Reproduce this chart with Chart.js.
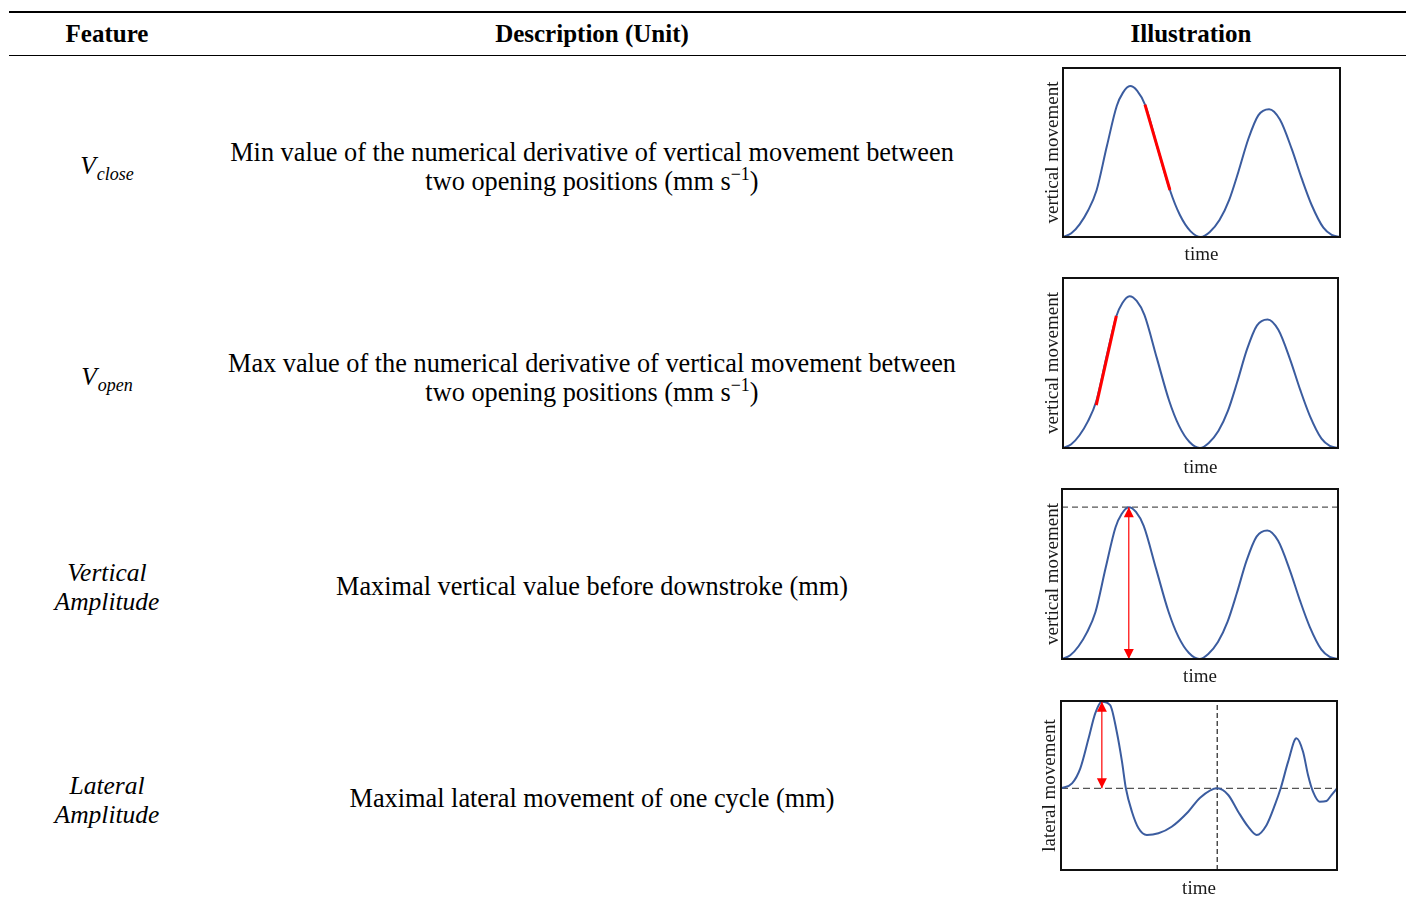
<!DOCTYPE html>
<html>
<head>
<meta charset="utf-8">
<title>Jaw movement features</title>
<script src="https://cdn.jsdelivr.net/npm/chart.js@4.4.1/dist/chart.umd.min.js"></script>
<style>
  html, body { margin: 0; padding: 0; background: #fff; }
  body { width: 1408px; height: 907px; position: relative; overflow: hidden;
         font-family: "Liberation Serif", "Times New Roman", serif; color: #000; }
  .rule { position: absolute; left: 9px; width: 1397px; background: #000; }
  .t { position: absolute; white-space: nowrap; transform: translateX(-50%); line-height: 1; }
  .t sub, .t sup { line-height: 0; }
  .head { font-weight: bold; font-size: 25px; }
  .desc { font-size: 26.3px; }
  .feat { font-size: 25.5px; font-style: italic; }
  .feat sub { font-size: 18px; position: relative; top: 0px; margin-left: 1px; }
  .desc sup { font-size: 18px; vertical-align: 0; position: relative; top: -10px; }
</style>
</head>
<body>
<div class="rule" style="top:11px;height:2px"></div>
<div class="rule" style="top:55px;height:1px"></div>
<script>
// ---- table text ----
const headerLabels = ['Feature', 'Description (Unit)', 'Illustration'];
const featureLabels = [
  ['V<sub>close</sub>'],
  ['V<sub>open</sub>'],
  ['Vertical', 'Amplitude'],
  ['Lateral', 'Amplitude']
];
const descriptionLines = [
  ['Min value of the numerical derivative of vertical movement between', 'two opening positions (mm s<sup>\u22121</sup>)'],
  ['Max value of the numerical derivative of vertical movement between', 'two opening positions (mm s<sup>\u22121</sup>)'],
  ['Maximal vertical value before downstroke (mm)'],
  ['Maximal lateral movement of one cycle (mm)']
];
const axisTitles = { time: 'time', vertical: 'vertical movement', lateral: 'lateral movement' };

// ---- illustration curves (time and displacement in % of the panel) ----
const vertTime = [0, 3, 6, 9, 12.1, 15.8, 19.4, 21.6, 24.2, 26.8, 29.6, 34.1, 38.6, 42.2, 46, 49.8,
                  53, 56.5, 60, 63.3, 66.9, 70.5, 74.4, 78.3, 82.6, 86.2, 89.8, 94, 97, 100];
const vertMove = [0, 2.2, 7.5, 15.5, 27.5, 53.5, 77.5, 85.3, 89.3, 86.5, 78.3, 53, 27.8, 13, 3.5, 0,
                  3, 10, 22, 38.5, 58, 72, 75.6, 69.5, 52, 34.5, 18.8, 5.5, 1.3, 0];
const closeSlopeTime = [29.6, 38.6];
const closeSlopeMove = [78.3, 27.8];
const openSlopeTime = [12.1, 19.4];
const openSlopeMove = [25.2, 77.7];

const latTime = [0, 4, 7, 10, 12.4, 14.8, 17.8, 20.2, 22.1, 23.5, 25.7, 28.1, 31.1, 35.3, 40.1, 46.1,
                 50.4, 56.6, 60.6, 64.2, 67.8, 70.9, 74.5, 77.5, 79.6, 82.3, 85.3, 87.7, 89.5, 91.3,
                 93.7, 96.2, 98, 100];
const latMove = [0, 5.7, 22.9, 57.3, 85.9, 99.2, 95.4, 64.8, 30.5, 0, -26.8, -45.8, -53.5, -51.5, -44, -26.8,
                 -10.8, 0, -7.7, -26.8, -44, -53.5, -42, -19.1, 0, 30.5, 57.3, 41.9, 15.2, -3.9,
                 -15.3, -14.5, -7.7, 0];
const latBaseline = 0;
const cycleSplitTime = 56.6;

// ---- table layout ----
const colCenters = [107, 592, 1191];
const headerBaseline = 42;
const featureBaselines = [[174], [385], [581, 610], [794, 823]];
const descBaselines = [[162, 191], [373, 402], [596], [808]];

function placeText(html, cx, baseline, cls, size) {
  const d = document.createElement('div');
  d.className = 't ' + cls;
  d.innerHTML = html;
  d.style.left = cx + 'px';
  d.style.top = (baseline - 0.8375 * size) + 'px';
  document.body.appendChild(d);
}
headerLabels.forEach((h, i) => placeText(h, colCenters[i], headerBaseline, 'head', 25));
featureLabels.forEach((lines, r) => lines.forEach((s, k) =>
  placeText(s, colCenters[0], featureBaselines[r][k], 'feat', 25.5)));
descriptionLines.forEach((lines, r) => lines.forEach((s, k) =>
  placeText(s, colCenters[1], descBaselines[r][k], 'desc', 26.3)));

// ---- chart helpers ----
const pts = (xs, ys) => xs.map((x, i) => ({ x, y: ys[i] }));
const BLUE = '#3b5c9f';
const RED = '#ff0000';

const curve = (xs, ys) => ({ data: pts(xs, ys), borderColor: BLUE, borderWidth: 2,
  cubicInterpolationMode: 'monotone', order: 1 });
const slope = (xs, ys) => ({ data: pts(xs, ys), borderColor: RED, borderWidth: 3, tension: 0, order: 0 });
const dashed = (xs, ys, color, dash) => ({ data: pts(xs, ys), borderColor: color, borderWidth: 1.2,
  borderDash: dash, tension: 0, order: 2 });
const arrow = (xs, ys) => ({ data: pts(xs, ys), borderColor: RED, borderWidth: 1.2, tension: 0,
  arrowHeads: true, order: 0 });

// frame around the plot area and arrowheads on flagged datasets
const panelDecor = {
  id: 'panelDecor',
  afterDatasetsDraw(chart) {
    const { ctx, chartArea: a } = chart;
    ctx.save();
    chart.data.datasets.forEach((ds, i) => {
      if (!ds.arrowHeads) return;
      const el = chart.getDatasetMeta(i).data;
      const ends = [[el[0], el[1]], [el[el.length - 1], el[el.length - 2]]];
      ctx.fillStyle = ds.borderColor;
      ends.forEach(([tip, from]) => {
        const ang = Math.atan2(tip.y - from.y, tip.x - from.x);
        const L = 10, W = 5;
        const bx = tip.x - Math.cos(ang) * L, by = tip.y - Math.sin(ang) * L;
        ctx.beginPath();
        ctx.moveTo(tip.x, tip.y);
        ctx.lineTo(bx - Math.sin(ang) * W, by + Math.cos(ang) * W);
        ctx.lineTo(bx + Math.sin(ang) * W, by - Math.cos(ang) * W);
        ctx.closePath();
        ctx.fill();
      });
    });
    ctx.strokeStyle = '#111';
    ctx.lineWidth = 2;
    ctx.strokeRect(a.left, a.top, a.right - a.left, a.bottom - a.top);
    ctx.restore();
  }
};

function buildPanel(p, datasets, yMin, yMax) {
  const PL = 40, PT = 10, PR = 12, PB = 42, FS = 19, LH = FS * 1.2;
  const w = p.box.r - p.box.l + PL + PR, h = p.box.b - p.box.t + PT + PB;
  const cv = document.createElement('canvas');
  cv.width = w; cv.height = h;
  cv.style.cssText = `position:absolute;left:${p.box.l - PL}px;top:${p.box.t - PT}px;width:${w}px;height:${h}px`;
  document.body.appendChild(cv);
  const titleFont = { family: 'Liberation Serif', size: FS, lineHeight: 1.2 };
  new Chart(cv, {
    type: 'line',
    data: { datasets },
    options: {
      responsive: false, animation: false, devicePixelRatio: 1,
      layout: { padding: { left: 0, top: PT, right: PR, bottom: 0 } },
      plugins: { legend: { display: false }, tooltip: { enabled: false } },
      elements: { point: { radius: 0 } },
      scales: {
        x: { type: 'linear', min: 0, max: 100,
             grid: { display: false }, border: { display: false }, ticks: { display: false },
             title: { display: true, text: axisTitles.time, color: '#1a1a1a', font: titleFont,
                      padding: { top: 0, bottom: PB - p.xGap - LH / 2 } },
             afterFit(s) { s.height = PB; } },
        y: { type: 'linear', min: yMin, max: yMax,
             grid: { display: false }, border: { display: false }, ticks: { display: false },
             title: { display: true, text: p.yTitle, color: '#1a1a1a', font: titleFont,
                      padding: { top: PL - p.yGap - LH / 2, bottom: 0 } },
             afterFit(s) { s.width = PL; } }
      }
    },
    plugins: [panelDecor]
  });
}

// peaks used for the amplitude marks
const vPeak = Math.max(...vertMove);
const vPeakTime = vertTime[vertMove.indexOf(vPeak)];
const lPeak = Math.max(...latMove);
const lPeakTime = latTime[latMove.indexOf(lPeak)];

buildPanel({ box: { l: 1063, t: 68, r: 1340, b: 237 }, xGap: 18, yGap: 10, yTitle: axisTitles.vertical },
  [curve(vertTime, vertMove), slope(closeSlopeTime, closeSlopeMove)], 0, 100);

buildPanel({ box: { l: 1063, t: 278, r: 1338, b: 448 }, xGap: 20, yGap: 10, yTitle: axisTitles.vertical },
  [curve(vertTime, vertMove), slope(openSlopeTime, openSlopeMove)], 0, 100);

buildPanel({ box: { l: 1062, t: 489, r: 1338, b: 659 }, xGap: 18, yGap: 9, yTitle: axisTitles.vertical },
  [curve(vertTime, vertMove),
   dashed([0, 100], [vPeak, vPeak], '#555', [6, 4]),
   arrow([vPeakTime, vPeakTime], [0, vPeak])], 0, 100);

buildPanel({ box: { l: 1061, t: 701, r: 1337, b: 870 }, xGap: 19, yGap: 11, yTitle: axisTitles.lateral },
  [curve(latTime, latMove),
   dashed([0, 100], [latBaseline, latBaseline], '#555', [7, 4]),
   dashed([cycleSplitTime, cycleSplitTime], [-93.6, 100], '#222', [5, 3]),
   arrow([lPeakTime, lPeakTime], [latBaseline, lPeak])], -93.6, 100);
</script>
</body>
</html>
